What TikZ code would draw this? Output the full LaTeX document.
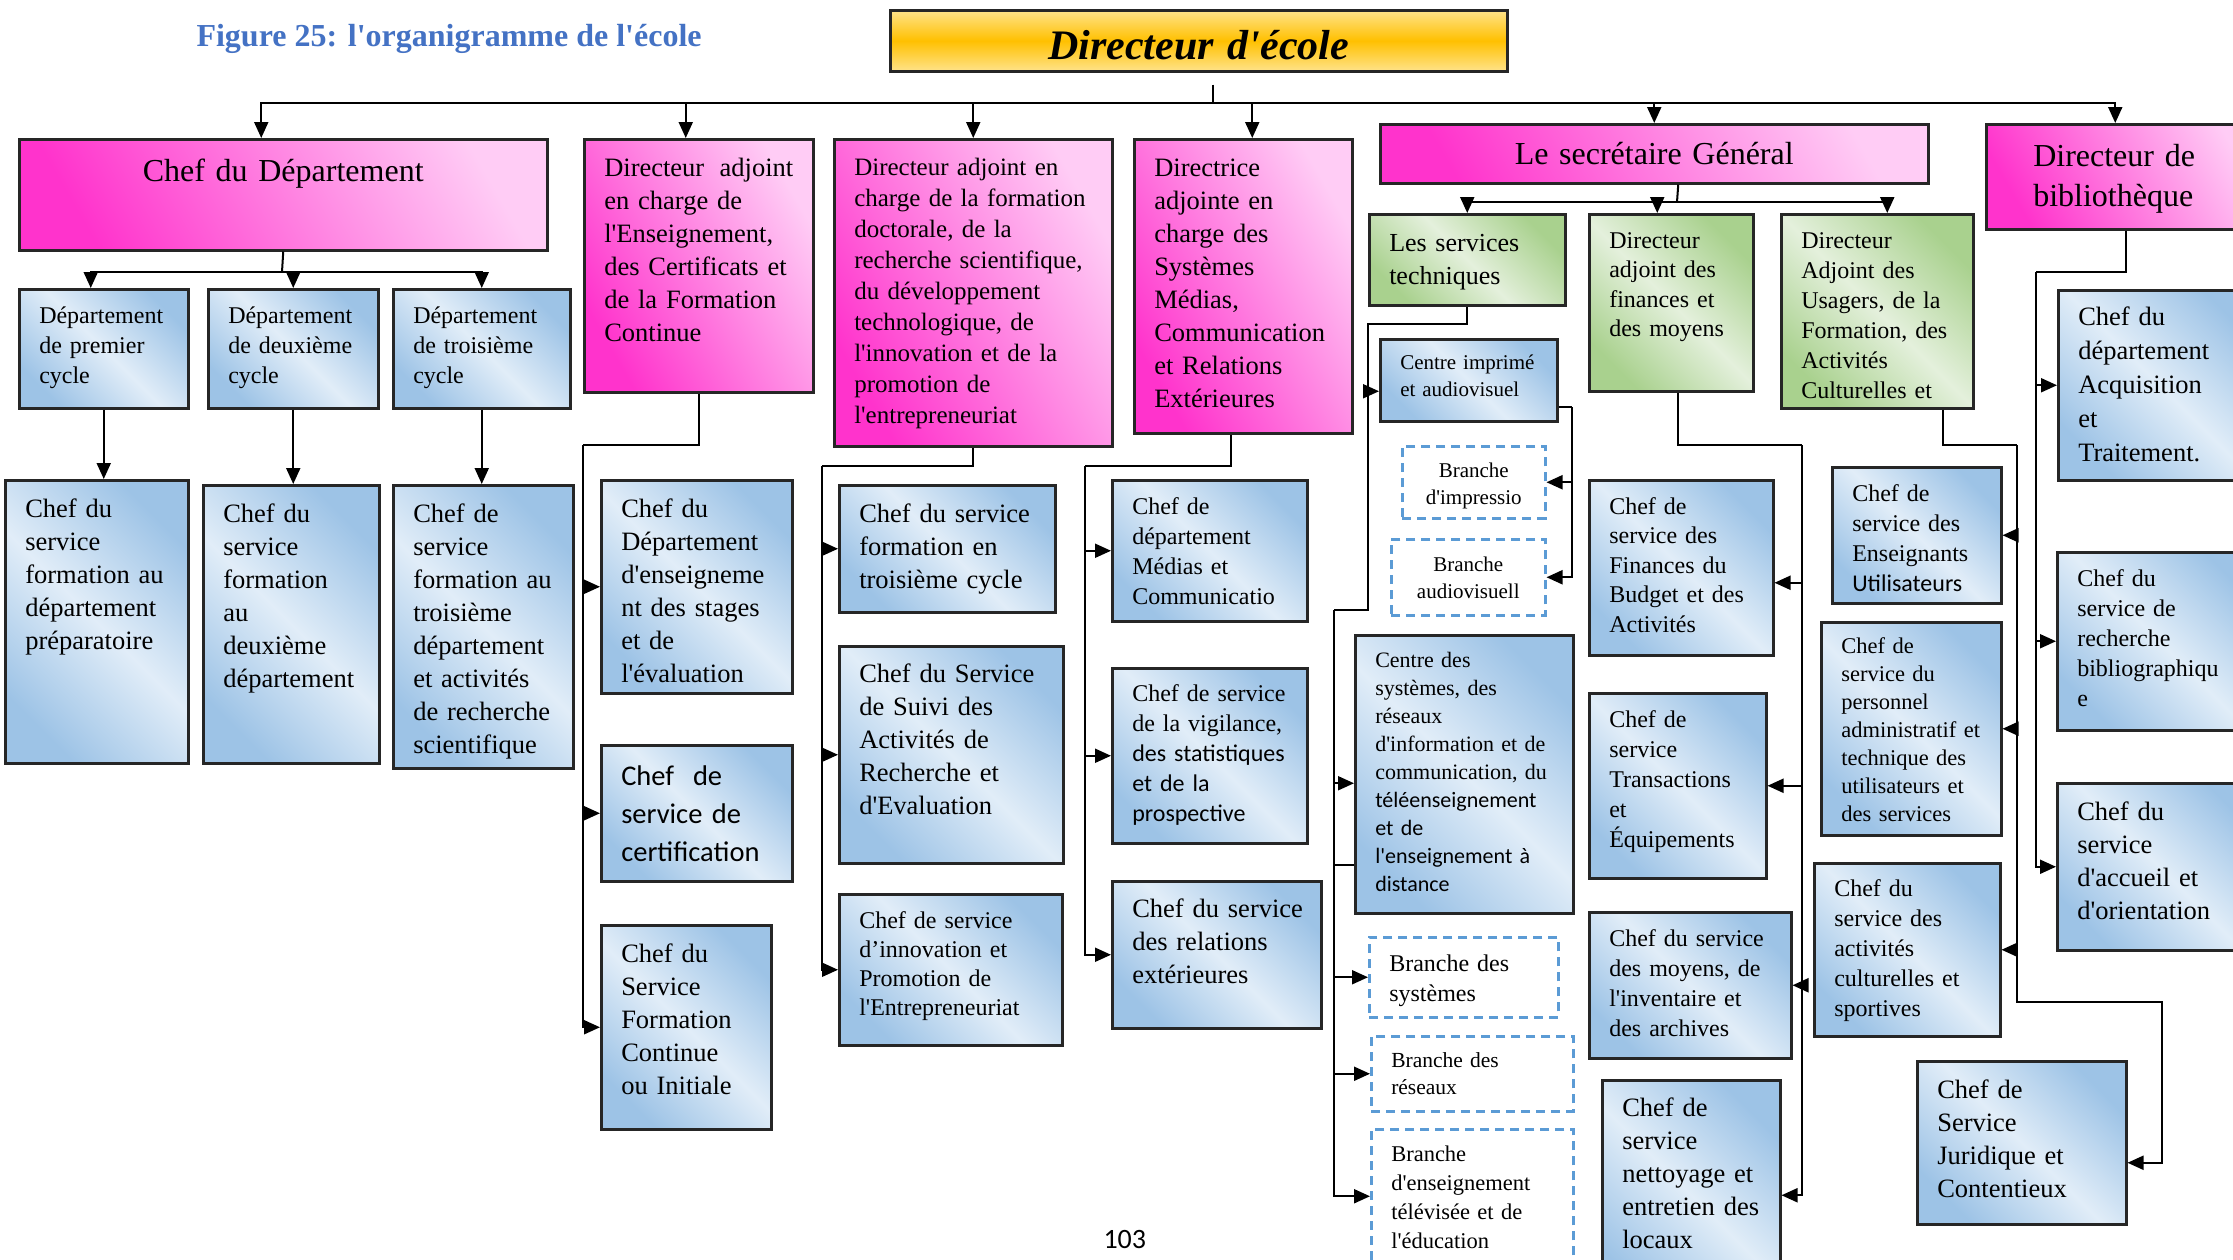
\documentclass[tikz,border=0pt]{standalone}
\usepackage{fontspec}
\setmainfont{Liberation Serif}[Ligatures=TeXOff]
\newfontfamily\calib{Carlito}
\usetikzlibrary{arrows.meta,calc}
\definecolor{golddeep}{HTML}{FFC000}
\definecolor{goldpale}{HTML}{FFE38A}
\definecolor{magdeep}{HTML}{FF33CC}
\definecolor{pinkpale}{HTML}{FFCCF5}
\definecolor{bluedeep}{HTML}{9DC3E6}
\definecolor{bluepale}{HTML}{E1EDF8}
\definecolor{greendeep}{HTML}{A9D18E}
\definecolor{greenpale}{HTML}{E4F0DC}
\definecolor{dashblue}{HTML}{5B9BD5}
\definecolor{titleblue}{HTML}{4472C4}
\definecolor{edgegray}{HTML}{262626}
\hyphenpenalty=10000
\exhyphenpenalty=10000

\begin{document}
\begin{tikzpicture}[
    x=1pt, y=-1pt,
    fs/.style 2 args={font=\fontsize{#1pt}{#2pt}\selectfont},
    cfs/.style 2 args={font=\calib\fontsize{#1pt}{#2pt}\selectfont},
    cell/.style n args={5}{/utils/exec={\pgfmathsetmacro\cellw{#3-#1-40}\pgfmathsetmacro\celld{#4-#2-#5}},
      at={(#1,#2)}, anchor=north west, inner xsep=20pt, inner ysep=0pt,
      text width=\cellw pt, text height=#5pt, text depth=\celld pt, align=left},
    rim/.style={draw=edgegray, line width=2.5pt},
    topbox/.style={rim, top color=goldpale, bottom color=goldpale, middle color=golddeep},
    headbox/.style={rim, top color=pinkpale, bottom color=magdeep, shading angle=-60},
    secbox/.style={rim, top color=greendeep, bottom color=greendeep, middle color=greenpale, shading angle=-45},
    svcbox/.style={rim, top color=bluedeep, bottom color=bluedeep, middle color=bluepale, shading angle=-45},
    dashbox/.style={draw=dashblue, line width=2.5pt, dash pattern=on 9pt off 6pt, fill=white},
    link/.style={line width=2pt},
    arr/.style={link, -{Triangle[length=16pt,width=14pt]}}
  ]
  \fill[white] (0,0) rectangle (2233,1259);
  \useasboundingbox (0,0) rectangle (2233,1259);

  % title and head
  \node[anchor=base west, text=titleblue, font=\bfseries\fontsize{32pt}{38pt}\selectfont] (title) at (193,46) {Figure 25: l'organigramme de l'école};
  \node[topbox, cell={889}{9}{1506}{70}{49}, align=center, font=\bfseries\itshape\fontsize{42pt}{48pt}\selectfont] (dir) {Directeur d'école};

  % first level
  \node[headbox, cell={18}{138}{546}{249}{42}, align=center, fs={32}{38}] (chefdep) {Chef du Département};
  \node[headbox, cell={583}{138}{812}{391}{37}, fs={26.5}{33}] (da1) {Directeur\hfill adjoint\\en charge de\\l'Enseignement,\\des Certificats et\\de la Formation\\Continue};
  \node[headbox, cell={833}{138}{1111}{445}{36}, fs={25}{31}] (da2) {Directeur adjoint en\\charge de la formation\\doctorale, de la\\recherche scientifique,\\du développement\\technologique, de\\l'innovation et de la\\promotion de\\l'entrepreneuriat};
  \node[headbox, cell={1133}{138}{1351}{432}{37}, fs={26.5}{33}] (da3) {Directrice\\adjointe en\\charge des\\Systèmes\\Médias,\\Communication\\et Relations\\Extérieures};
  \node[headbox, cell={1379}{123}{1927}{182}{40}, align=center, fs={32}{38}] (sg) {Le secrétaire Général};
  \node[headbox, cell={1985}{123}{2265}{228}{42}, fs={32}{40}] (bib) {\hspace*{27pt}Directeur de\\\hspace*{27pt}bibliothèque};

  % secretariat
  \node[secbox, cell={1368}{213}{1564}{304}{37}, fs={26}{33}] (g1) {Les services\\techniques};
  \node[secbox, cell={1588}{213}{1752}{390}{34}, fs={24}{29.5}] (g2) {Directeur\\adjoint des\\finances et\\des moyens};
  \node[secbox, cell={1780}{213}{1972}{407}{34}, fs={24}{30}] (g3) {Directeur\\Adjoint des\\Usagers, de la\\Formation, des\\Activités\\Culturelles et};

  % departements
  \node[svcbox, cell={18}{288}{187}{407}{34}, fs={24}{30}] (d1) {Département\\de premier\\cycle};
  \node[svcbox, cell={207}{288}{377}{407}{34}, fs={24}{30}] (d2) {Département\\de deuxième\\cycle};
  \node[svcbox, cell={392}{288}{569}{407}{34}, fs={24}{30}] (d3) {Département\\de troisième\\cycle};
  \node[svcbox, cell={4}{479}{187}{762}{37}, fs={26.5}{33}] (c1) {Chef du\\service\\formation~au\\département\\préparatoire};
  \node[svcbox, cell={202}{484}{378}{762}{37}, fs={26.5}{33}] (c2) {Chef du\\service\\formation\\au\\deuxième\\département};
  \node[svcbox, cell={392}{484}{572}{767}{37}, fs={26.5}{33}] (c3) {Chef de\\service\\formation~au\\troisième\\département\\et~activités\\de~recherche\\scientifique};

  % enseignement
  \node[svcbox, cell={600}{479}{791}{692}{37}, fs={26.5}{33}] (e1) {Chef du\\Département\\d'enseigneme\\nt~des~stages\\et de\\l'évaluation};
  \node[svcbox, cell={600}{744}{791}{880}{40}, cfs={28.5}{38}] (e2) {Chef\ \ de\\service~de\\certification};
  \node[svcbox, cell={600}{924}{770}{1128}{37}, fs={26.5}{33}] (e3) {Chef du\\Service\\Formation\\Continue\\ou Initiale};

  % formation doctorale
  \node[svcbox, cell={838}{484}{1054}{611}{37}, fs={26.5}{33}] (f1) {Chef~du~service\\formation en\\troisième~cycle};
  \node[svcbox, cell={838}{645}{1062}{862}{36}, fs={26.5}{33}] (f2) {Chef~du~Service\\de Suivi des\\Activités de\\Recherche et\\d'Evaluation};
  \node[svcbox, cell={838}{893}{1061}{1044}{34}, fs={24}{29}] (f3) {Chef~de~service\\d’innovation et\\Promotion de\\l'Entrepreneuriat};

  % medias
  \node[svcbox, cell={1111}{479}{1306}{620}{34}, fs={24}{30}] (h1) {Chef de\\département\\Médias et\\Communicatio};
  \node[svcbox, cell={1111}{667}{1306}{842}{33}, fs={24}{30}] (h2) {Chef~de~service\\de~la~vigilance,\\{\calib des~statistiques\\et de la\\prospective}};
  \node[svcbox, cell={1111}{880}{1320}{1027}{36}, fs={26.5}{33}] (h3) {Chef~du~service\\des~relations\\extérieures};

  % services techniques
  \node[svcbox, cell={1379}{338}{1556}{420}{30}, fs={21}{27}] (ci) {Centre~imprimé\\et audiovisuel};
  \node[dashbox, cell={1401}{445}{1544}{517}{31}, align=center, fs={21}{27}] (bi) {Branche\\d'impressio};
  \node[dashbox, cell={1390}{538}{1544}{614}{32}, align=center, fs={21}{27}] (ba) {Branche\\audiovisuell};
  \node[svcbox, cell={1354}{634}{1572}{912}{32}, fs={22}{28}] (cs) {Centre des\\systèmes, des\\réseaux\\d'information~et~de\\communication,~du\\{\calib téléenseignement\\et de\\l'enseignement~à\\distance}};
  \node[dashbox, cell={1368}{936}{1557}{1016}{34}, fs={24}{30}] (bs) {Branche des\\systèmes};
  \node[dashbox, cell={1370}{1035}{1572}{1110}{31}, fs={21.5}{27}] (br) {Branche des\\réseaux};
  \node[dashbox, cell={1370}{1128}{1572}{1262}{32}, fs={22.5}{29}] (be) {Branche\\d'enseignement\\télévisée et de\\l'éducation};

  % finances
  \node[svcbox, cell={1588}{479}{1772}{654}{34}, fs={24}{29.5}] (k1) {Chef de\\service des\\Finances du\\Budget~et~des\\Activités};
  \node[svcbox, cell={1588}{692}{1765}{877}{34}, fs={24}{30}] (k2) {Chef de\\service\\Transactions\\et\\Équipements};
  \node[svcbox, cell={1588}{911}{1790}{1057}{34}, fs={24}{30}] (k3) {Chef~du~service\\des~moyens,~de\\l'inventaire et\\des archives};
  \node[svcbox, cell={1601}{1079}{1779}{1309}{36}, fs={26.5}{33}] (k4) {Chef de\\service\\nettoyage~et\\entretien~des\\locaux};

  % usagers
  \node[svcbox, cell={1831}{466}{2000}{602}{34}, fs={24}{30}] (l1) {Chef de\\service des\\Enseignants\\{\calib Utilisateurs}};
  \node[svcbox, cell={1820}{621}{2000}{834}{31}, fs={22.5}{28}] (l2) {Chef de\\service du\\personnel\\administratif~et\\technique~des\\utilisateurs~et\\des services};
  \node[svcbox, cell={1813}{862}{1999}{1035}{33}, fs={24}{30}] (l3) {Chef du\\service des\\activités\\culturelles~et\\sportives};
  \node[svcbox, cell={1916}{1060}{2125}{1223}{37}, fs={26.5}{33}] (jur) {Chef de\\Service\\Juridique et\\Contentieux};

  % bibliotheque
  \node[svcbox, cell={2057}{289}{2260}{479}{35}, fs={26.5}{34}] (m1) {Chef du\\département\\Acquisition\\et\\Traitement.};
  \node[svcbox, cell={2056}{551}{2260}{729}{34}, fs={24}{30}] (m2) {Chef du\\service de\\recherche\\bibliographiqu\\e};
  \node[svcbox, cell={2056}{782}{2260}{949}{37}, fs={26.5}{33}] (m3) {Chef du\\service\\d'accueil et\\d'orientation};

  \node[anchor=base west, font=\calib\fontsize{28pt}{32pt}\selectfont] (pageno) at (1100,1248) {103};

  % top bus
  \coordinate (bus) at (1213,103);
  \draw[link] ($(bus |- dir.south)+(0,12)$) -- (bus);
  \draw[arr] (bus) -| ([xshift=-22pt]chefdep.north);
  \draw[arr] (bus) -| ([xshift=-13pt]da1.north);
  \draw[arr] (bus) -| (da2.north);
  \draw[arr] (bus) -| ([xshift=9pt]da3.north);
  \draw[arr] (bus) -| (sg.north);
  \draw[arr] (bus) -| ([xshift=-11pt]bib.north);

  % chef du departement
  \coordinate (cdbar) at (282,272);
  \draw[link] (chefdep.south) -- (cdbar);
  \draw[arr] (cdbar) -| ([xshift=-13pt]d1.north);
  \draw[arr] (cdbar) -| (d2.north);
  \draw[arr] (cdbar) -| (d3.north);
  \draw[arr] (d1.south) -- (d1.south |- c1.north);
  \draw[arr] (d2.south) -- (d2.south |- c2.north);
  \draw[arr] (d3.south) -- (d3.south |- c3.north);

  % directeurs adjoints
  \coordinate (da1k) at (583,445);
  \draw[link] (da1.south) |- (da1k);
  \draw[arr] (da1k) |- (e1.west);
  \draw[arr] (da1k) |- (e2.west);
  \draw[arr] (da1k) |- (e3.west);
  \coordinate (da2k) at (822,466);
  \draw[link] (da2.south) |- (da2k);
  \draw[arr] (da2k) |- (f1.west);
  \draw[arr] (da2k) |- (f2.west);
  \draw[arr] (da2k) |- (f3.west);
  \coordinate (da3k) at (1085,466);
  \draw[link] ([xshift=-12pt]da3.south) |- (da3k);
  \draw[arr] (da3k) |- (h1.west);
  \draw[arr] (da3k) |- (h2.west);
  \draw[arr] (da3k) |- (h3.west);

  % secretaire general
  \coordinate (sgk) at (1677,202);
  \draw[link] ([xshift=24pt]sg.south) -- (sgk);
  \draw[arr] (sgk) -| (g1.north);
  \draw[arr] (sgk) -| ([xshift=-14pt]g2.north);
  \draw[arr] (sgk) -| ([xshift=10pt]g3.north);

  % services techniques
  \coordinate (g1k) at (1368,324);
  \coordinate (g1k2) at (1334,610);
  \draw[link] (g1.south) |- (g1k) |- (g1k2);
  \draw[arr] (g1k) |- ([yshift=-11pt]ci.west);
  \coordinate (cik) at (1572,407);
  \draw[link] (ci.east |- cik) -- (cik);
  \draw[arr] (cik) |- (bi.east);
  \draw[arr] (cik) |- (ba.east);
  \draw[arr] (g1k2) |- ([yshift=-9pt]cs.west);
  \coordinate (csfoot) at ([yshift=-91pt]cs.west);
  \draw[link] (csfoot) -- (csfoot -| g1k2);
  \draw[arr] (g1k2) |- (bs.west);
  \draw[arr] (g1k2) |- (br.west);
  \draw[arr] (g1k2) |- (be.west);

  % finances
  \coordinate (g2k) at (1802,445);
  \draw[link] ([xshift=7pt]g2.south) |- (g2k);
  \draw[arr] (g2k) |- ([yshift=-15pt]k1.east);
  \draw[arr] (g2k) |- (k2.east);
  \draw[arr] (g2k) |- (k3.east);
  \draw[arr] (g2k) |- (k4.east);

  % usagers
  \coordinate (g3k) at (2017,445);
  \coordinate (g3k2) at (2162,1002);
  \draw[link] ([xshift=66pt]g3.south) |- (g3k);
  \draw[arr] (g3k) |- (l1.east);
  \draw[arr] (g3k) |- (l2.east);
  \draw[arr] (g3k) |- (l3.east);
  \draw[arr] (g3k) |- (g3k2) |- ([yshift=-20pt]jur.east);

  % bibliotheque
  \coordinate (bibk) at (2036,272);
  \draw[link] (bib.south) |- (bibk);
  \draw[arr] (bibk) |- (m1.west);
  \draw[arr] (bibk) |- (m2.west);
  \draw[arr] (bibk) |- (m3.west);
\end{tikzpicture}
\end{document}
